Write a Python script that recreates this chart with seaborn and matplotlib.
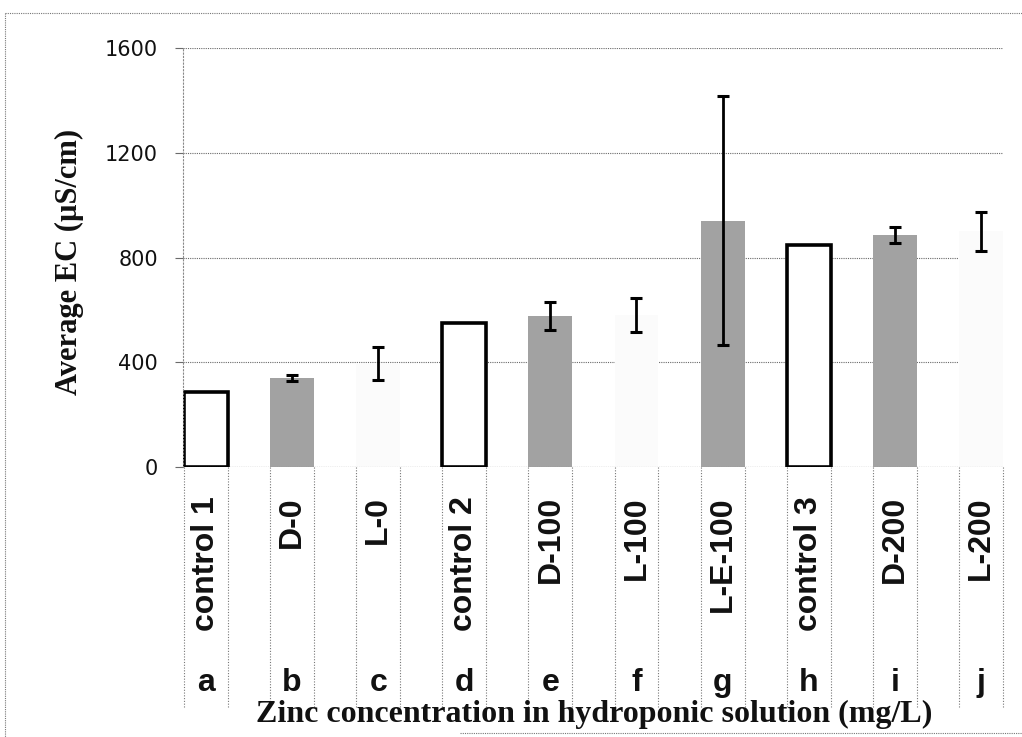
import numpy as np
import pandas as pd
import matplotlib
matplotlib.use("Agg")
import matplotlib.pyplot as plt
import seaborn as sns
from matplotlib import transforms
from matplotlib.lines import Line2D

# ---- data ----
categories = ["control 1", "D-0", "L-0", "control 2", "D-100", "L-100",
              "L-E-100", "control 3", "D-200", "L-200"]
letters = ["a", "b", "c", "d", "e", "f", "g", "h", "i", "j"]
mean_ec = [285, 340, 395, 550, 577, 582, 940, 848, 887, 900]
err_ec = [0, 12, 64, 0, 52, 65, 475, 0, 31, 75]
kinds = ["control", "dark", "light", "control", "dark", "light",
         "dark", "control", "dark", "light"]
y_ticks = [0, 400, 800, 1200, 1600]

kind_fill = {"control": "#ffffff", "dark": "#a2a2a2", "light": "#fbfbfb"}
kind_edge = {"control": "#000000", "dark": "none", "light": "none"}
kind_lw = {"control": 2.6, "dark": 0.0, "light": 0.0}

df = pd.DataFrame({"category": categories, "ec": mean_ec, "kind": kinds})
palette = {c: kind_fill[k] for c, k in zip(categories, kinds)}

sns.set_theme(style="white")
plt.rcParams["font.family"] = ["DejaVu Sans"]

fig = plt.figure(figsize=(10.22, 7.37), dpi=100)
ax = fig.add_axes([183 / 1022, 1 - 467 / 737, 820 / 1022, 419 / 737])

sns.barplot(data=df, x="category", y="ec", hue="category", order=categories,
            palette=palette, legend=False, width=0.51, saturation=1,
            errorbar=None, ax=ax)

for patch, k in zip(ax.patches, kinds):
    patch.set_edgecolor(kind_edge[k])
    patch.set_linewidth(kind_lw[k])
    if k == "control":
        patch.set_joinstyle("miter")

# error bars (only where present)
xpos = np.arange(len(categories))
mask = np.array(err_ec) > 0
ax.errorbar(xpos[mask], np.array(mean_ec)[mask], yerr=np.array(err_ec)[mask],
            fmt="none", ecolor="black", elinewidth=2.0, capsize=4.5,
            capthick=2.2, zorder=5)

# axes styling
ax.set_ylim(0, 1600)
ax.set_xlim(-0.267, 9.257)
ax.set_yticks(y_ticks)
ax.set_yticklabels([str(t) for t in y_ticks])
ax.yaxis.grid(True, linestyle=(0, (1, 1)), color="#6a6a6a", linewidth=0.8)
ax.xaxis.grid(False)
ax.set_axisbelow(True)
for s in ["top", "right", "bottom"]:
    ax.spines[s].set_visible(False)
ax.spines["left"].set_linestyle((0, (1, 2)))
ax.spines["left"].set_color("#888888")
ax.spines["left"].set_linewidth(0.8)
ax.tick_params(axis="y", which="major", left=True, length=6, width=0.8,
               color="#6a6a6a", pad=12, labelsize=15, labelcolor="#111111")
ax.set_xlabel("")
ax.set_ylabel("")

# category labels (rotated) as tick labels
ax.set_xticks(xpos)
ax.set_xticklabels(categories, rotation=90, fontsize=23, fontweight="bold",
                   family="Liberation Sans", color="#111111")
ax.tick_params(axis="x", length=0, pad=21)

blend = transforms.blended_transform_factory(ax.transData, ax.transAxes)
# dotted separators at bar edges below the axis
for patch in ax.patches:
    x0 = patch.get_x()
    x1 = x0 + patch.get_width()
    for xv in (x0, x1):
        ax.add_line(Line2D([xv, xv], [0, -0.575], transform=blend,
                           clip_on=False, linestyle=(0, (1, 1.5)),
                           color="#777777", linewidth=0.8))
# zero line
ax.axhline(0, color="#6a6a6a", linestyle=(0, (1, 1)), linewidth=0.8)

# letters row
for i, lt in enumerate(letters):
    ax.text(xpos[i], -0.5155, lt, transform=blend, ha="center", va="center",
            fontsize=23, fontweight="bold", family="Liberation Sans",
            color="#111111")

# axis titles
fig.text(69 / 1022, 1 - 262 / 737, "Average EC (µS/cm)", rotation=90,
         ha="center", va="center", family="Liberation Serif",
         fontweight="bold", fontsize=22, color="#111111")
fig.text(594 / 1022, 1 - 714 / 737,
         "Zinc concentration in hydroponic solution (mg/L)",
         ha="center", va="center", family="Liberation Serif",
         fontweight="bold", fontsize=23, color="#111111")

# chart-area border (dotted)
border_kw = dict(transform=fig.transFigure, linestyle=(0, (1, 1)),
                 color="#777777", linewidth=0.8)
fig.add_artist(Line2D([5 / 1022, 5 / 1022], [1 - 13 / 737, 0], **border_kw))
fig.add_artist(Line2D([5 / 1022, 1], [1 - 13 / 737, 1 - 13 / 737], **border_kw))
fig.add_artist(Line2D([460 / 1022, 1], [1 - 733 / 737, 1 - 733 / 737], **border_kw))

fig.savefig("out.png", dpi=100, facecolor="white")
